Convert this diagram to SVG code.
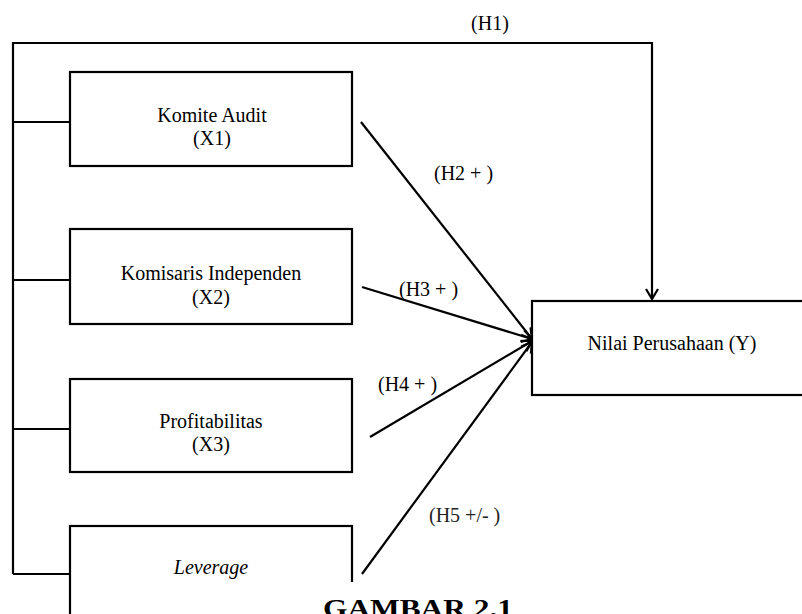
<svg xmlns="http://www.w3.org/2000/svg" width="802" height="614" viewBox="0 0 802 614">
<defs>
<style>
.box{fill:#fff;stroke:#000;stroke-width:2.2}
.ln{fill:none;stroke:#000;stroke-width:2.2}
.c{text-anchor:middle}
</style>
<marker id="arr" viewBox="0 0 12 14" refX="11" refY="7" markerWidth="12" markerHeight="14" orient="auto" markerUnits="userSpaceOnUse">
<path d="M1,1 L11,7 L1,13" fill="none" stroke="#000" stroke-width="2.2"/>
</marker>
</defs>
<rect width="802" height="614" fill="#fff"/>
<g font-family="Liberation Serif, Times New Roman, serif" font-size="20" fill="#000">
<g id="connectors">
<path class="ln" d="M13,574 L13,43 L652,43 L652,299" marker-end="url(#arr)"/>
<path class="ln" d="M13,122 L70,122 M13,280 L70,280 M13,429 L70,429 M13,574 L70,574"/>
<line class="ln" x1="361" y1="122" x2="532" y2="339" marker-end="url(#arr)"/>
<line class="ln" x1="362" y1="287" x2="532" y2="339" marker-end="url(#arr)"/>
<line class="ln" x1="370" y1="437" x2="532" y2="341" marker-end="url(#arr)"/>
<line class="ln" x1="362" y1="574" x2="532" y2="342" marker-end="url(#arr)"/>
<text class="c" x="490" y="30">(H1)</text>
<text x="434" y="180">(H2 + )</text>
<text x="399" y="296">(H3 + )</text>
<text x="378" y="391">(H4 + )</text>
<text x="429" y="522" fill="#222">(H5 +/- )</text>
</g>
<g id="x1">
<rect class="box" x="70" y="72" width="282" height="94"/>
<text class="c" x="212" y="122">Komite Audit</text>
<text class="c" x="212" y="145">(X1)</text>
</g>
<g id="x2">
<rect class="box" x="70" y="229" width="282" height="95"/>
<text class="c" x="211" y="280">Komisaris Independen</text>
<text class="c" x="211" y="304">(X2)</text>
</g>
<g id="x3">
<rect class="box" x="70" y="379" width="282" height="93"/>
<text class="c" x="211" y="428">Profitabilitas</text>
<text class="c" x="211" y="451">(X3)</text>
</g>
<g id="x4">
<rect class="box" x="70" y="526" width="282" height="120"/>
<text class="c" x="211" y="574" font-style="italic">Leverage</text>
</g>
<g id="y">
<rect class="box" x="532" y="301" width="290" height="94"/>
<text class="c" x="672" y="350">Nilai Perusahaan (Y)</text>
</g>
<rect x="73" y="582" width="729" height="32" fill="#fff"/>
<text x="418" y="617" font-size="26" font-weight="bold" text-anchor="middle" textLength="190" lengthAdjust="spacingAndGlyphs">GAMBAR 2.1</text>
</g>
</svg>
